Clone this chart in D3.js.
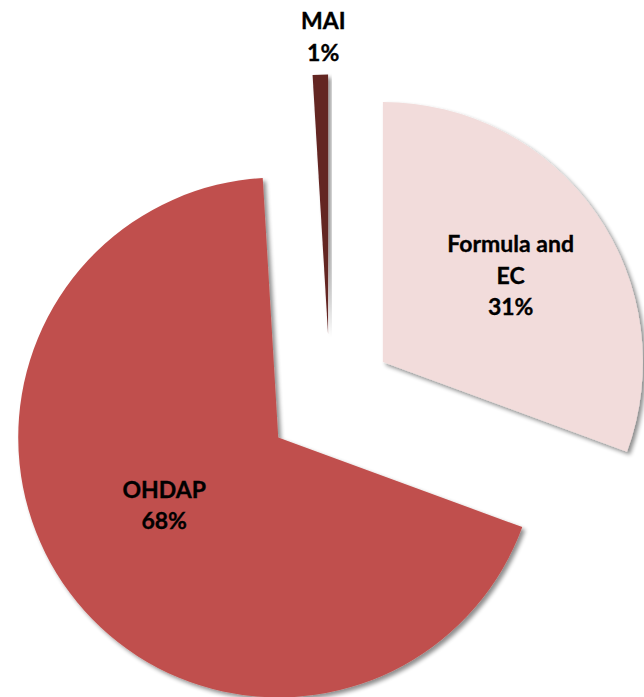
<!DOCTYPE html>
<html>
<head>
<meta charset="utf-8">
<script src="https://cdn.jsdelivr.net/npm/d3@7"></script>
<style>
  html, body { margin: 0; padding: 0; background: #ffffff; }
  svg { display: block; }
</style>
</head>
<body>
<script>
const categories = ["Formula and EC", "OHDAP", "MAI"];
const labelLines = [["Formula and", "EC"], ["OHDAP"], ["MAI"]];
const values = [30.6, 68.45, 0.95];
const colors = ["#f2dcdb", "#c0504d", "#632523"];

const W = 644, H = 697;
const cx = 330, cy = 399, R = 260, explode = 64.5;
// layout nudges for label placement (pixels), keyed by category
const labelNudge = { "Formula and EC": [2, 1], "OHDAP": [9, -24], "MAI": [4, 0] };

const svg = d3.select("body").append("svg").attr("width", W).attr("height", H);

const defs = svg.append("defs");
const f = defs.append("filter").attr("id", "shadow")
  .attr("x", "-20%").attr("y", "-20%").attr("width", "140%").attr("height", "140%");
f.append("feGaussianBlur").attr("in", "SourceAlpha").attr("stdDeviation", 2.2).attr("result", "b");
f.append("feOffset").attr("in", "b").attr("dx", 2.5).attr("dy", 2.5).attr("result", "o");
f.append("feComponentTransfer").attr("in", "o").attr("result", "s")
  .append("feFuncA").attr("type", "linear").attr("slope", 0.45);
const m = f.append("feMerge");
m.append("feMergeNode").attr("in", "s");
m.append("feMergeNode").attr("in", "SourceGraphic");

const data = categories.map((c, i) => ({ cat: c, value: values[i], lines: labelLines[i], color: colors[i] }));
const pie = d3.pie().sort(null).value(d => d.value).startAngle(0).endAngle(2 * Math.PI);
const arcs = pie(data);
const total = d3.sum(values);
const arc = d3.arc().innerRadius(0).outerRadius(R);

const g = svg.append("g").attr("transform", `translate(${cx},${cy})`);

function dir(a) {
  const mid = (a.startAngle + a.endAngle) / 2;
  return [Math.sin(mid), -Math.cos(mid)];
}

const slices = g.selectAll("g.slice").data(arcs).enter().append("g")
  .attr("class", "slice")
  .attr("transform", d => { const [dx, dy] = dir(d); return `translate(${dx * explode},${dy * explode})`; });

slices.append("path")
  .attr("d", arc)
  .attr("fill", d => d.data.color)
  .attr("filter", "url(#shadow)");

const fontFamily = "Lato, 'Open Sans', sans-serif";
const lineH = 31.5;
slices.each(function (d) {
  const [dx, dy] = dir(d);
  const share = d.value / total;
  const small = share < 0.05;
  const r = small ? R + 38 : R * 0.59;
  const nudge = labelNudge[d.data.cat] || [0, 0];
  const x = dx * r + nudge[0], y = dy * r + nudge[1];
  const lines = d.data.lines.concat([Math.round(d.value / total * 100) + "%"]);
  const n = lines.length;
  const t = d3.select(this).append("text")
    .attr("text-anchor", "middle")
    .attr("font-family", fontFamily)
    .attr("font-weight", "bold")
    .attr("font-size", 23)
    .attr("fill", "#000")
    .attr("stroke", "#000")
    .attr("stroke-width", 0.35);
  lines.forEach((ln, i) => {
    t.append("tspan")
      .attr("x", x)
      .attr("y", y + (i - (n - 1) / 2) * lineH)
      .attr("dy", "0.36em")
      .text(ln);
  });
});
</script>
</body>
</html>
